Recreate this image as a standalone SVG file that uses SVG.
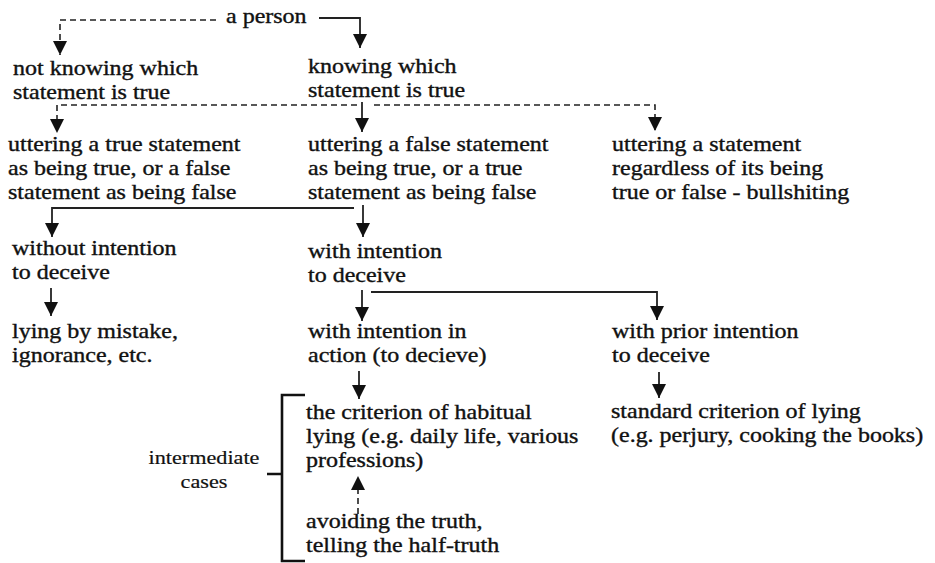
<svg xmlns="http://www.w3.org/2000/svg" width="935" height="563" viewBox="0 0 935 563">
<style>
text{font-family:"Liberation Serif","Times New Roman",serif;font-size:20px;fill:#111;stroke:#111;stroke-width:0.35px}
.small{font-size:18.5px;stroke-width:0.2px}
.solid{fill:none;stroke:#222;stroke-width:1.8}
.dash{fill:none;stroke:#222;stroke-width:1.6;stroke-dasharray:6 4}
.brk{fill:none;stroke:#111;stroke-width:2.6}
</style>
<defs>
<marker id="ah" markerUnits="userSpaceOnUse" markerWidth="14" markerHeight="14" refX="12" refY="6" orient="auto" viewBox="0 0 12 12">
<path d="M0,0 L12,6 L0,12 z" fill="#111"/>
</marker>
</defs>
<rect width="935" height="563" fill="#fff"/>
<g id="connectors">
<path class="dash" d="M216,20 H60 V55" marker-end="url(#ah)"/>
<path class="solid" d="M319,18 H360 V48" marker-end="url(#ah)"/>
<path class="solid" d="M362,102 V132" marker-end="url(#ah)"/>
<path class="dash" d="M357,105 H57 V133" marker-end="url(#ah)"/>
<path class="dash" d="M374,105 H655 V131" marker-end="url(#ah)"/>
<path class="solid" d="M354,208 H52 V237" marker-end="url(#ah)"/>
<path class="solid" d="M363,205 V237" marker-end="url(#ah)"/>
<path class="solid" d="M51,288 V316" marker-end="url(#ah)"/>
<path class="solid" d="M362,290 V321" marker-end="url(#ah)"/>
<path class="solid" d="M371,292 H657 V320" marker-end="url(#ah)"/>
<path class="solid" d="M359,371 V399" marker-end="url(#ah)"/>
<path class="solid" d="M659,372 V398" marker-end="url(#ah)"/>
<path class="dash" d="M358,514 V476" marker-end="url(#ah)"/>
<path class="brk" d="M305,395 H282 V561 H305 M267,474 H282"/>
</g>
<g id="person" transform="translate(226,23) scale(1.2,1)"><text>a person</text></g>
<g id="not-knowing" transform="translate(13,75) scale(1.2,1)"><text><tspan x="0" y="0">not knowing which</tspan><tspan x="0" y="24">statement is true</tspan></text></g>
<g id="knowing" transform="translate(308,73) scale(1.2,1)"><text><tspan x="0" y="0">knowing which</tspan><tspan x="0" y="24">statement is true</tspan></text></g>
<g id="true-statement" transform="translate(8,151) scale(1.2,1)"><text><tspan x="0" y="0">uttering a true statement</tspan><tspan x="0" y="24">as being true, or a false</tspan><tspan x="0" y="48">statement as being false</tspan></text></g>
<g id="false-statement" transform="translate(308,151) scale(1.2,1)"><text><tspan x="0" y="0">uttering a false statement</tspan><tspan x="0" y="24">as being true, or a true</tspan><tspan x="0" y="48">statement as being false</tspan></text></g>
<g id="bullshiting" transform="translate(612,151) scale(1.2,1)"><text><tspan x="0" y="0">uttering a statement</tspan><tspan x="0" y="24">regardless of its being</tspan><tspan x="0" y="48">true or false - bullshiting</tspan></text></g>
<g id="without-intention" transform="translate(12,255) scale(1.2,1)"><text><tspan x="0" y="0">without intention</tspan><tspan x="0" y="24">to deceive</tspan></text></g>
<g id="with-intention" transform="translate(308,258) scale(1.2,1)"><text><tspan x="0" y="0">with intention</tspan><tspan x="0" y="24">to deceive</tspan></text></g>
<g id="lying-mistake" transform="translate(12,338) scale(1.2,1)"><text><tspan x="0" y="0">lying by mistake,</tspan><tspan x="0" y="24">ignorance, etc.</tspan></text></g>
<g id="intention-action" transform="translate(308,338) scale(1.2,1)"><text><tspan x="0" y="0">with intention in</tspan><tspan x="0" y="24">action (to decieve)</tspan></text></g>
<g id="prior-intention" transform="translate(612,338) scale(1.2,1)"><text><tspan x="0" y="0">with prior intention</tspan><tspan x="0" y="24">to deceive</tspan></text></g>
<g id="habitual" transform="translate(306,419) scale(1.2,1)"><text><tspan x="0" y="0">the criterion of habitual</tspan><tspan x="0" y="24">lying (e.g. daily life, various</tspan><tspan x="0" y="48">professions)</tspan></text></g>
<g id="standard" transform="translate(611,418) scale(1.2,1)"><text><tspan x="0" y="0">standard criterion of lying</tspan><tspan x="0" y="24">(e.g. perjury, cooking the books)</tspan></text></g>
<g id="avoiding" transform="translate(306,528) scale(1.2,1)"><text><tspan x="0" y="0">avoiding the truth,</tspan><tspan x="0" y="24">telling the half-truth</tspan></text></g>
<g id="intermediate" transform="translate(204,464) scale(1.2,1)"><text class="small" text-anchor="middle"><tspan x="0" y="0">intermediate</tspan><tspan x="0" y="24">cases</tspan></text></g>
</svg>
